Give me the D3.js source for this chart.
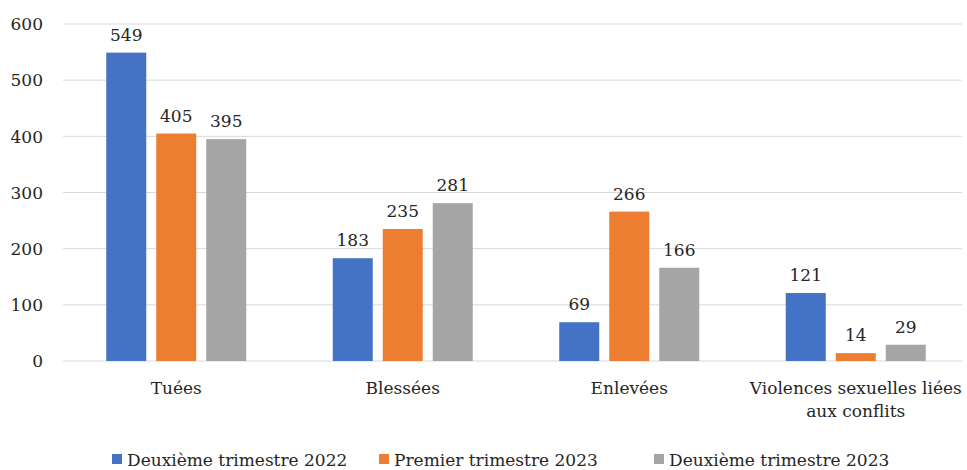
<!DOCTYPE html>
<html>
<head>
<meta charset="utf-8">
<script src="https://cdn.jsdelivr.net/npm/d3@7"></script>
<style>
  html, body { margin: 0; padding: 0; background: #fff; }
  svg text { fill: #262626; }
</style>
</head>
<body>
<svg id="chart" width="967" height="470"></svg>
<script>
// Categories, series and values
const categories = ["Tuées", "Blessées", "Enlevées", "Violences sexuelles liées|aux conflits"];
const seriesNames = ["Deuxième trimestre 2022", "Premier trimestre 2023", "Deuxième trimestre 2023"];
const q2_2022 = [549, 183, 69, 121];
const q1_2023 = [405, 235, 266, 14];
const q2_2023 = [395, 281, 166, 29];
const yTicks = [0, 100, 200, 300, 400, 500, 600];
const colors = ["#4472C4", "#ED7D31", "#A5A5A5"];

const seriesValues = [q2_2022, q1_2023, q2_2023];
const FONT = "'DejaVu Serif', 'Liberation Serif', serif";
const FS = "17px";

const svg = d3.select("#chart").style("font-family", FONT);
const left = 63, plotRight = 969;

const x = d3.scaleBand().domain(categories).range([left, plotRight]);
const xs = d3.scaleBand().domain(seriesNames).range([0, 140]).paddingInner(0.2);
const y = d3.scaleLinear().domain([0, 600]).range([361, 24]);

// Gridlines
svg.append("g")
  .selectAll("line")
  .data(yTicks)
  .join("line")
  .attr("x1", left)
  .attr("x2", 962)
  .attr("y1", d => y(d))
  .attr("y2", d => y(d))
  .attr("stroke", "#d9d9d9")
  .attr("stroke-width", 1);

// Y axis labels
const yAxis = d3.axisLeft(y).tickValues(yTicks).tickSize(0).tickPadding(0);
const ya = svg.append("g").attr("transform", "translate(43,0)").call(yAxis);
ya.attr("font-family", null).attr("font-size", null);
ya.select(".domain").remove();
ya.selectAll("text")
  .style("font-size", FS)
  .style("font-family", FONT)
  .attr("fill", "#262626")
  .attr("dy", "0.34em");

// Bars
const groups = svg.append("g")
  .selectAll("g")
  .data(categories)
  .join("g")
  .attr("transform", c => `translate(${x(c) + x.bandwidth() / 2 - 70},0)`);

const rows = (c, ci) => seriesNames.map((s, si) => ({ s, si, v: seriesValues[si][ci] }));

groups.selectAll("rect")
  .data(rows)
  .join("rect")
  .attr("x", d => xs(d.s))
  .attr("width", xs.bandwidth())
  .attr("y", d => y(d.v))
  .attr("height", d => y(0) - y(d.v))
  .attr("fill", d => colors[d.si]);

// Value labels
groups.selectAll("text.val")
  .data(rows)
  .join("text")
  .attr("class", "val")
  .attr("x", d => xs(d.s) + xs.bandwidth() / 2)
  .attr("y", d => y(d.v) - 12)
  .attr("text-anchor", "middle")
  .style("font-size", FS)
  .style("font-family", FONT)
  .text(d => d.v);

// Category labels (multi-line)
const xl = svg.append("g")
  .selectAll("text")
  .data(categories)
  .join("text")
  .attr("x", c => x(c) + x.bandwidth() / 2)
  .attr("y", 394)
  .attr("text-anchor", "middle")
  .style("font-size", FS)
  .style("font-family", FONT);
xl.selectAll("tspan")
  .data(c => c.split("|"))
  .join("tspan")
  .attr("x", function () { return this.parentNode.getAttribute("x"); })
  .attr("dy", (d, i) => i === 0 ? 0 : 23)
  .text(d => d);

// Legend
const legendX = [112, 379, 654];
const lg = svg.append("g")
  .selectAll("g")
  .data(seriesNames)
  .join("g")
  .attr("transform", (d, i) => `translate(${legendX[i]},460)`);
lg.append("rect")
  .attr("x", 0).attr("y", -6).attr("width", 10).attr("height", 10)
  .attr("fill", (d, i) => colors[i]);
lg.append("text")
  .attr("x", 15).attr("y", 0).attr("dy", "0.34em")
  .style("font-size", FS)
  .style("font-family", FONT)
  .text(d => d);
</script>
</body>
</html>
